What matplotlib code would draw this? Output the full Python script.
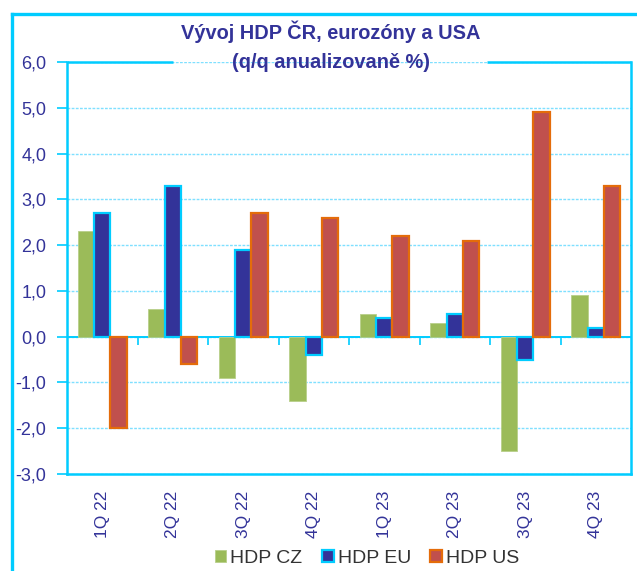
import numpy as np
import matplotlib
matplotlib.use("Agg")
import matplotlib.pyplot as plt
from matplotlib.patches import Patch
from matplotlib.lines import Line2D
from matplotlib.ticker import FuncFormatter

quarters = ["1Q 22", "2Q 22", "3Q 22", "4Q 22", "1Q 23", "2Q 23", "3Q 23", "4Q 23"]
hdp_cz = [2.3, 0.6, -0.9, -1.4, 0.5, 0.3, -2.5, 0.9]
hdp_eu = [2.7, 3.3, 1.9, -0.4, 0.4, 0.5, -0.5, 0.2]
hdp_us = [-2.0, -0.6, 2.7, 2.6, 2.2, 2.1, 4.9, 3.3]
series_names = ["HDP CZ", "HDP EU", "HDP US"]

CYAN = "#00CCFF"
NAVY = "#333399"
GREEN = "#9BBB59"
RED = "#C0504D"
ORANGE = "#E46C0A"

plt.rcParams["font.family"] = ["Liberation Sans", "DejaVu Sans"]

fig = plt.figure(figsize=(6.37, 5.71), dpi=100)
ax = fig.add_axes([0.1052, 0.1699, 0.8854, 0.7215])

x = np.arange(len(quarters))
w = 0.23
ax.bar(x - w, hdp_cz, w, color=GREEN, edgecolor="#B8CF8A", linewidth=0.6, zorder=3)
ax.bar(x, hdp_eu, w, color=NAVY, edgecolor=CYAN, linewidth=1.6, zorder=3)
ax.bar(x + w, hdp_us, w, color=RED, edgecolor=ORANGE, linewidth=1.6, zorder=3)

ax.set_xlim(-0.5, len(quarters) - 0.5)
ax.set_ylim(-3, 6)
ax.set_yticks(np.arange(-3, 7, 1))
ax.yaxis.set_major_formatter(FuncFormatter(lambda v, p: f"{v:.1f}".replace(".", ",")))
ax.tick_params(axis="y", direction="out", length=7, width=1.2, color=CYAN,
               labelcolor=NAVY, labelsize=13, pad=8)
ax.set_xticks(x)
ax.set_xticklabels(quarters, rotation=90, color=NAVY, fontsize=12.5)
ax.tick_params(axis="x", length=0, pad=12)

# grid and zero line
ax.grid(axis="y", color="#7FE0FF", linestyle=(0, (2, 1)), linewidth=1.0, zorder=1)
ax.axhline(0, color=CYAN, linewidth=1.4, zorder=2)

# boundary ticks on the zero line
zero_frac = (0 - (-3)) / 9
sec = ax.secondary_xaxis(zero_frac)
sec.set_xticks(np.arange(0.5, len(quarters) - 1, 1))
sec.set_xticklabels([])
sec.tick_params(axis="x", direction="out", length=6, width=1.2, color=CYAN)
sec.spines["bottom"].set_visible(False)

for s in ["left", "right", "bottom"]:
    ax.spines[s].set_color(CYAN)
    ax.spines[s].set_linewidth(1.8)
ax.spines["top"].set_visible(False)
for xs in ([0, 0.188], [0.745, 1.0]):
    ax.plot(xs, [1, 1], transform=ax.transAxes, color=CYAN, linewidth=1.8,
            clip_on=False, solid_capstyle="butt")

# title
fig.text(0.52, 0.944, "Vývoj HDP ČR, eurozóny a USA", ha="center", va="center",
         fontsize=14.4, fontweight="bold", color=NAVY)
fig.text(0.519, 0.89, "(q/q anualizovaně %)", ha="center", va="center",
         fontsize=14.4, fontweight="bold", color=NAVY)

# outer frame
fig.add_artist(Line2D([12 / 637, 12 / 637], [0, 1 - 14 / 571], color=CYAN, linewidth=2.4,
                      transform=fig.transFigure))
fig.add_artist(Line2D([12 / 637, 1], [1 - 14 / 571, 1 - 14 / 571], color=CYAN,
                      linewidth=2.4, transform=fig.transFigure))

handles = [
    Patch(facecolor=GREEN, edgecolor="#B8CF8A", linewidth=0.6),
    Patch(facecolor=NAVY, edgecolor=CYAN, linewidth=1.6),
    Patch(facecolor=RED, edgecolor=ORANGE, linewidth=1.6),
]
fig.legend(handles, series_names, loc="center", bbox_to_anchor=(0.576, 0.022),
           ncol=3, frameon=False, fontsize=14, handlelength=0.6, handleheight=0.6,
           handletextpad=0.2, columnspacing=1.0, labelcolor="#333333")

fig.savefig("out.png", dpi=100)
